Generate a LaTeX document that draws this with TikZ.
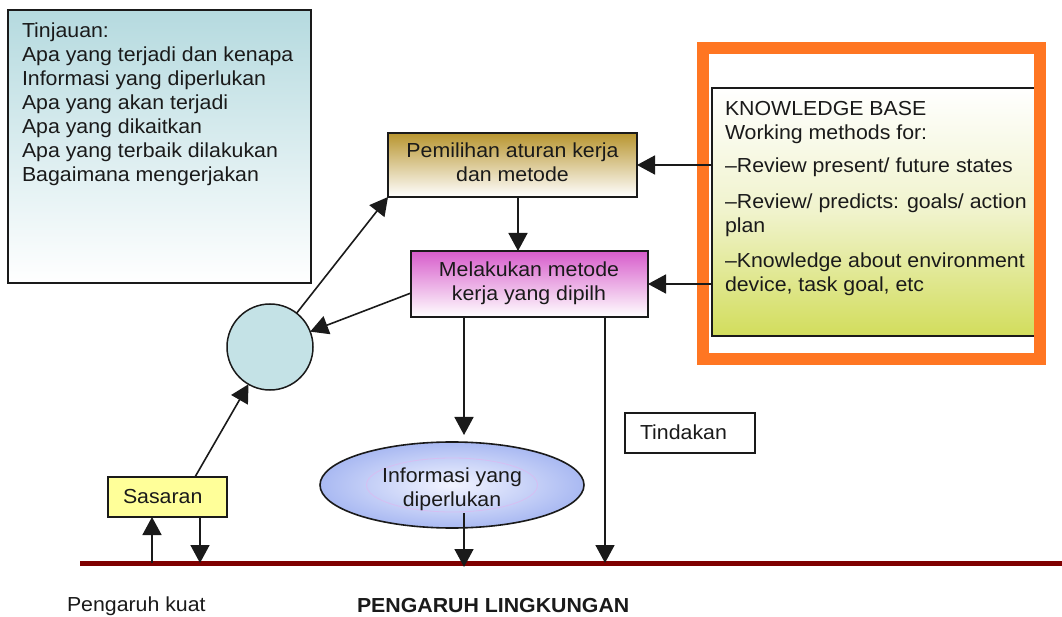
\documentclass[tikz,border=0pt]{standalone}
\usepackage{fontspec}
\setmainfont{Liberation Sans}[FakeStretch=1.05]
\usetikzlibrary{arrows.meta,shapes.geometric,calc}

\definecolor{tinjau}{HTML}{B5DADF}
\definecolor{goldtop}{HTML}{B8952F}
\definecolor{magtop}{HTML}{D75CCB}
\definecolor{kbgreen}{HTML}{D2DD5C}
\definecolor{kbmid}{HTML}{F0F3CC}
\definecolor{circfill}{HTML}{C4E2E6}
\definecolor{sasfill}{HTML}{FFFF99}
\definecolor{infoin}{HTML}{F2F4FF}
\definecolor{infoout}{HTML}{A9B9F2}
\definecolor{lav}{HTML}{D6BEF2}
\definecolor{frameorange}{HTML}{FF7622}
\definecolor{groundred}{HTML}{7F0000}
\definecolor{ink}{HTML}{1A1A1A}

\begin{document}
\begin{tikzpicture}[x=1pt,y=1pt,
  every node/.style={inner sep=0pt, outer sep=0pt},
  txt/.style={font=\fontsize{20.3}{24}\selectfont, text=ink},
  arr/.style={line width=1.6pt, draw=ink, -{Triangle[length=18pt,width=19pt]}},
  box/.style={rectangle, draw=ink, line width=1.8pt},
  thinbox/.style={rectangle, draw=ink, line width=1.3pt},
]
\useasboundingbox (0,0) rectangle (1062,616);
\fill[white] (0,0) rectangle (1062,616);

% review panel
\node[box, minimum width=303pt, minimum height=273pt,
      top color=tinjau, bottom color=white] (tin) at (159.5,469.5) {};
\node[txt, anchor=base west] (tintext) at (22,578.8)
  {\parbox[t]{285pt}{\raggedright Tinjauan:\\Apa yang terjadi dan kenapa\\Informasi yang diperlukan\\Apa yang akan terjadi\\Apa yang dikaitkan\\Apa yang terbaik dilakukan\\Bagaimana mengerjakan}};

% knowledge base with orange frame
\node[box, minimum width=333pt, minimum height=248pt,
      top color=white, bottom color=kbgreen, middle color=kbmid] (kb) at (878.5,404) {};
\node[txt, anchor=base west] (kbtext) at (725,500)
  {\parbox[t]{320pt}{\raggedright KNOWLEDGE BASE\\Working methods for:\\[9pt]\textendash Review present/ future states\\[12pt]\textendash Review/ predicts: goals/ action\\plan\\[11pt]\textendash Knowledge about environment\\device, task goal, etc}};
\node[draw=frameorange, line width=12pt, minimum width=337pt, minimum height=311pt] (frame) at (871.5,412.5) {};

% method selection and execution
\node[box, minimum width=249pt, minimum height=64pt,
      top color=goldtop, bottom color=white] (pem) at (512.5,451) {};
\node[txt, anchor=base] (pemtext) at (512.5,458)
  {\parbox[t]{240pt}{\centering Pemilihan aturan kerja\\dan metode}};
\node[box, minimum width=237pt, minimum height=66pt,
      top color=magtop, bottom color=white] (mel) at (529.5,332) {};
\node[txt, anchor=base] (meltext) at (529,339)
  {\parbox[t]{230pt}{\centering Melakukan metode\\kerja yang dipilh}};

% circle, goal, information, action
\node[circle, draw=ink, line width=1.5pt, fill=circfill, minimum size=86pt] (circ) at (270,269) {};
\node[thinbox, fill=sasfill, minimum width=119pt, minimum height=40pt] (sas) at (167.5,119) {};
\node[txt, anchor=base west] (sastext) at (123,113) {Sasaran};
\node[ellipse, draw=ink, line width=1.6pt, minimum width=264pt, minimum height=86pt,
      inner color=infoin, outer color=infoout] (info) at (452,131) {};
\draw[lav, line width=0.8pt] (info.center) ellipse [x radius=85.5, y radius=27];
\node[txt, anchor=base] (infotext) at (452,134)
  {\parbox[t]{200pt}{\centering Informasi yang\\diperlukan}};
\node[thinbox, fill=white, minimum width=130pt, minimum height=40pt] (tind) at (690,183) {};
\node[txt, anchor=base west] (tindtext) at (640,176) {Tindakan};

% environment line
\coordinate (gl) at (80,53);
\coordinate (gr) at (1062,53);
\draw[groundred, line width=5pt] (gl) -- (gr);

% connectors
\draw[arr] ([xshift=5.5pt]pem.south) -- ([xshift=5.5pt]pem.south |- mel.north);
\draw[arr] (kb.west |- pem.east) -- (pem.east);
\draw[arr] (kb.west |- mel.east) -- (mel.east);
\draw[arr] (circ) -- (pem.south west);
\draw[arr] ([yshift=-9pt]mel.west) -- (circ);
\draw[arr] ([xshift=27.5pt]sas.north) -- (circ);
\draw[arr] ([xshift=-15.5pt]sas.south |- gl) -- ([xshift=-15.5pt]sas.south);
\draw[arr] ([xshift=32.5pt]sas.south) -- ([xshift=32.5pt]sas.south |- gl);
\draw[arr] ([xshift=-65.5pt]mel.south) -- ([xshift=12pt,yshift=7pt]info.north);
\draw[arr] ([xshift=12pt,yshift=-28pt]info.center) -- ([xshift=12pt,yshift=-4pt]info.center |- gl);
\draw[arr] ([xshift=75.5pt]mel.south) -- ([xshift=75.5pt]mel.south |- gl);

% captions
\node[txt, anchor=base west] (capl) at (67,5) {Pengaruh kuat};
\node[txt, anchor=base west, font=\fontsize{20.3}{24}\selectfont\bfseries] (capr) at (357,4) {PENGARUH LINGKUNGAN};
\end{tikzpicture}
\end{document}
